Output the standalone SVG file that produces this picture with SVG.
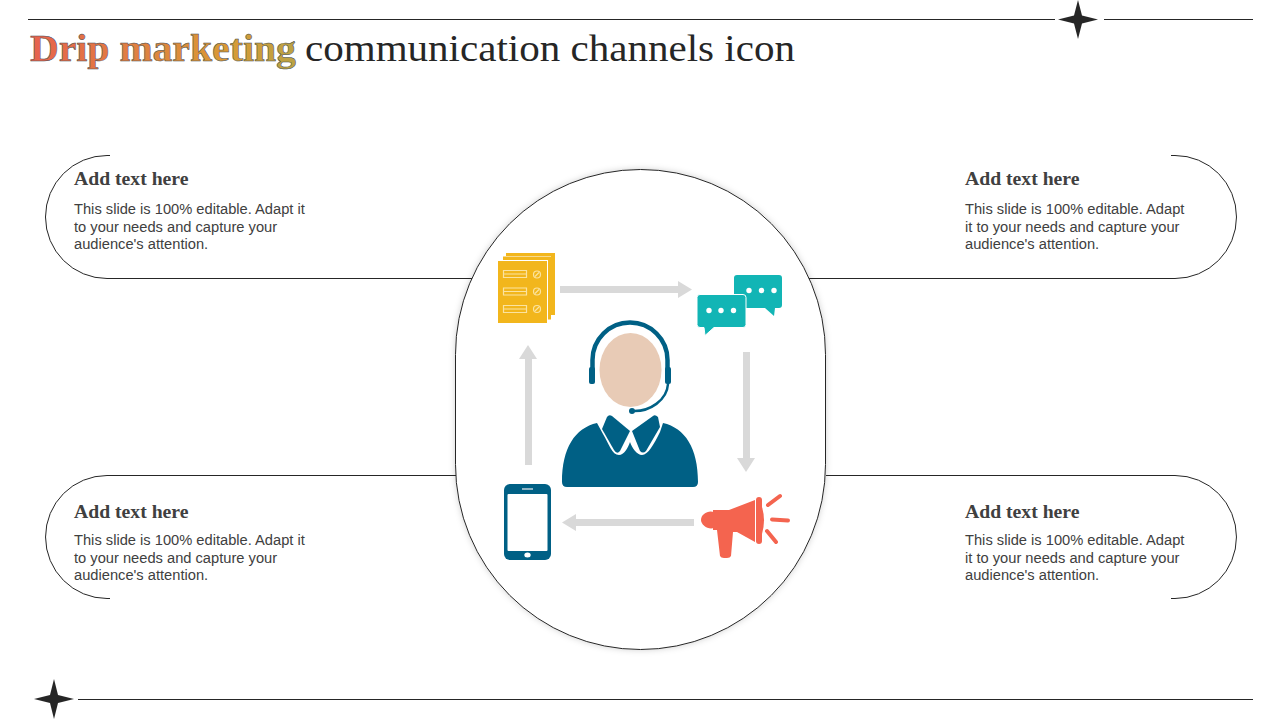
<svg xmlns="http://www.w3.org/2000/svg" width="1280" height="720" viewBox="0 0 1280 720">
<style>
.ln{fill:none;stroke:#262626;stroke-width:1}
.h{font:bold 19.700px "Liberation Serif",serif;fill:#404040}
.b{font:14.680px "Liberation Sans",Arial,sans-serif;fill:#404040}
.t{font-family:"Liberation Serif",serif;font-size:37px}
.arrow{fill:#d9d9d9}
.star{fill:#262626}
.teal{fill:#12b5b5}
.blue{fill:#006085}
.red{fill:#f4644f}
.yl{fill:#f2b61c}
.yls{fill:none;stroke:#fbe3a0;stroke-width:1.200}
</style>
<defs>
<linearGradient id="g" gradientUnits="userSpaceOnUse" x1="30" y1="0" x2="296" y2="40">
<stop offset="0" stop-color="#e8604f"/><stop offset="0.75" stop-color="#d99a35"/><stop offset="1" stop-color="#bba244"/>
</linearGradient>
<filter id="sh" x="-10%" y="-10%" width="120%" height="120%"><feDropShadow dx="0" dy="0" stdDeviation="3" flood-color="#000" flood-opacity="0.18"/></filter>
</defs>
<g id="frame">
<path class="ln" d="M28 19.500H1055M1104 19.500H1253M78 699.500H1253"/>
<path class="star" d="M1078 0L1082 15.500L1098 19.500L1082 23.500L1078 39L1074 23.500L1058 19.500L1074 15.500Z"/>
<path class="star" d="M54 679L58 695L74 699L58 703L54 719L50 703L34 699L50 695Z"/>
</g>
<g id="title">
<text class="t" x="30" y="61" textLength="266" lengthAdjust="spacingAndGlyphs" font-weight="bold" fill="url(#g)" stroke="#3c4a50" stroke-width="0.500">Drip marketing</text>
<text class="t" x="305" y="61" textLength="490" lengthAdjust="spacingAndGlyphs" fill="#262626">communication channels icon</text>
</g>
<g id="center"><rect x="455.500" y="169.500" width="370" height="480" rx="185" ry="185" fill="#fff" stroke="#262626" filter="url(#sh)"/></g>
<g id="connectors">
<path class="ln" d="M110 155.500H107A61.500 61.500 0 0 0 107 278.500H472"/>
<path class="ln" d="M1171 155.500H1175A61.500 61.500 0 0 1 1175 278.500H809"/>
<path class="ln" d="M456 475.500H107A61.500 61.500 0 0 0 107 598.500H110"/>
<path class="ln" d="M826 475.500H1175A61.500 61.500 0 0 1 1175 598.500H1171"/>
<path class="arrow" d="M560 286H678V281L692 289.500L678 298V293H560Z"/>
<path class="arrow" d="M743 352H750V458H755L746 472L737 458H743Z"/>
<path class="arrow" d="M694 519V526H576V531L562 522.500L576 514V519Z"/>
<path class="arrow" d="M525 465H532V359H537L528 345L519 359H525Z"/>
</g>
<g id="doc-icon">
<rect class="yl" x="506" y="253" width="49" height="62"/>
<rect x="502" y="256" width="49" height="65" fill="#fff"/>
<rect class="yl" x="503" y="256.500" width="48" height="63"/>
<rect x="499" y="260" width="49" height="65" fill="#fff"/>
<rect class="yl" x="498" y="261" width="49" height="62"/>
<path class="yls" d="M503.500 270.500h23v7h-23zM503.500 274h23M503.500 288h23v7h-23zM503.500 291.500h23M503.500 305.500h23v7h-23zM503.500 309h23"/>
<g class="yls"><circle cx="537" cy="274.500" r="3.500"/><circle cx="537" cy="291.500" r="3.500"/><circle cx="537" cy="309" r="3.500"/><path d="M535 276.500L539 272.500M535 293.500L539 289.500M535 311L539 307"/></g>
</g>
<g id="chat-icon">
<path class="teal" d="M737 275H779Q782 275 782 278V305Q782 308 779 308H775L774 316L765 308H737Q734 308 734 305V278Q734 275 737 275Z"/>
<path class="teal" d="M700 294.500H743Q746 294.500 746 297.500V324.500Q746 327.500 743 327.500H714L705 335.500L704 327.500H700Q697 327.500 697 324.500V297.500Q697 294.500 700 294.500Z" stroke="#fff" stroke-width="1"/>
<g fill="#fff"><circle cx="749" cy="290.500" r="2.700"/><circle cx="761.500" cy="290.500" r="2.700"/><circle cx="774" cy="290.500" r="2.700"/><circle cx="709" cy="310.500" r="2.700"/><circle cx="721" cy="310.500" r="2.700"/><circle cx="733.500" cy="310.500" r="2.700"/></g>
</g>
<g id="agent-icon">
<ellipse cx="630.500" cy="370" rx="31" ry="37" fill="#e8cbb6"/>
<path d="M592.500 370V360A37.500 37.500 0 0 1 667.500 360V370" fill="none" stroke="#006085" stroke-width="4.500"/>
<rect class="blue" x="589" y="367" width="6" height="17" rx="2"/>
<rect class="blue" x="665" y="367" width="6" height="17" rx="2"/>
<path d="M668 384C667 400 650 412 632 411" fill="none" stroke="#006085" stroke-width="2.500"/>
<circle class="blue" cx="632" cy="411" r="3"/>
<path class="blue" d="M597 423L603 434C609 444 612 455 619 455C624 455 628 448 630 442C632 448 637 455 642 455C648 455 654 444 660 432L663 423C685 428 698 448 698 482Q698 487 693 487H567Q562 487 562 482C562 448 575 428 597 423Z"/>
<path class="blue" d="M607 417Q609 414 612 416L630 431L620 451Q617 455 614 450L602 429Z"/>
<path class="blue" d="M653 416Q655 414 658 417L660 427L646 451Q643 454 640 451L632 431Z"/>
</g>
<g id="megaphone-icon">
<path class="red" d="M714 512C708 510 701 514 701 520C701 525 708 530 714 528Z"/>
<path class="red" d="M713 510H729L755 500V542L737 532H733L731 556Q730 558 727 558H724Q721 558 720 556L717 530H713Z"/>
<rect class="red" x="756" y="497" width="6" height="47" rx="3"/>
<path class="red" d="M762 507Q766 520 762 534Z"/>
<path d="M768 505L780 496M772 519.500L788 520.500M767 531L776 542" fill="none" stroke="#f4644f" stroke-width="4" stroke-linecap="round"/>
</g>
<g id="phone-icon">
<rect class="blue" x="504" y="484" width="47" height="76" rx="6"/>
<rect x="507.500" y="494" width="40" height="57" rx="1" fill="#fff"/>
<rect x="522" y="488" width="11" height="2" fill="#8fb6c6"/>
<ellipse cx="527.500" cy="555" rx="3.200" ry="2.500" fill="#fff"/>
</g>
<g id="note-tl"><text class="h" x="74" y="185">Add text here</text>
<text class="b"><tspan x="74" y="214">This slide is 100% editable. Adapt it</tspan><tspan x="74" y="232">to your needs and capture your</tspan><tspan x="74" y="249">audience's attention.</tspan></text></g>
<g id="note-tr"><text class="h" x="965" y="185">Add text here</text>
<text class="b"><tspan x="965" y="214">This slide is 100% editable. Adapt</tspan><tspan x="965" y="232">it to your needs and capture your</tspan><tspan x="965" y="249">audience's attention.</tspan></text></g>
<g id="note-bl"><text class="h" x="74" y="518">Add text here</text>
<text class="b"><tspan x="74" y="545">This slide is 100% editable. Adapt it</tspan><tspan x="74" y="563">to your needs and capture your</tspan><tspan x="74" y="580">audience's attention.</tspan></text></g>
<g id="note-br"><text class="h" x="965" y="518">Add text here</text>
<text class="b"><tspan x="965" y="545">This slide is 100% editable. Adapt</tspan><tspan x="965" y="563">it to your needs and capture your</tspan><tspan x="965" y="580">audience's attention.</tspan></text></g>
</svg>
